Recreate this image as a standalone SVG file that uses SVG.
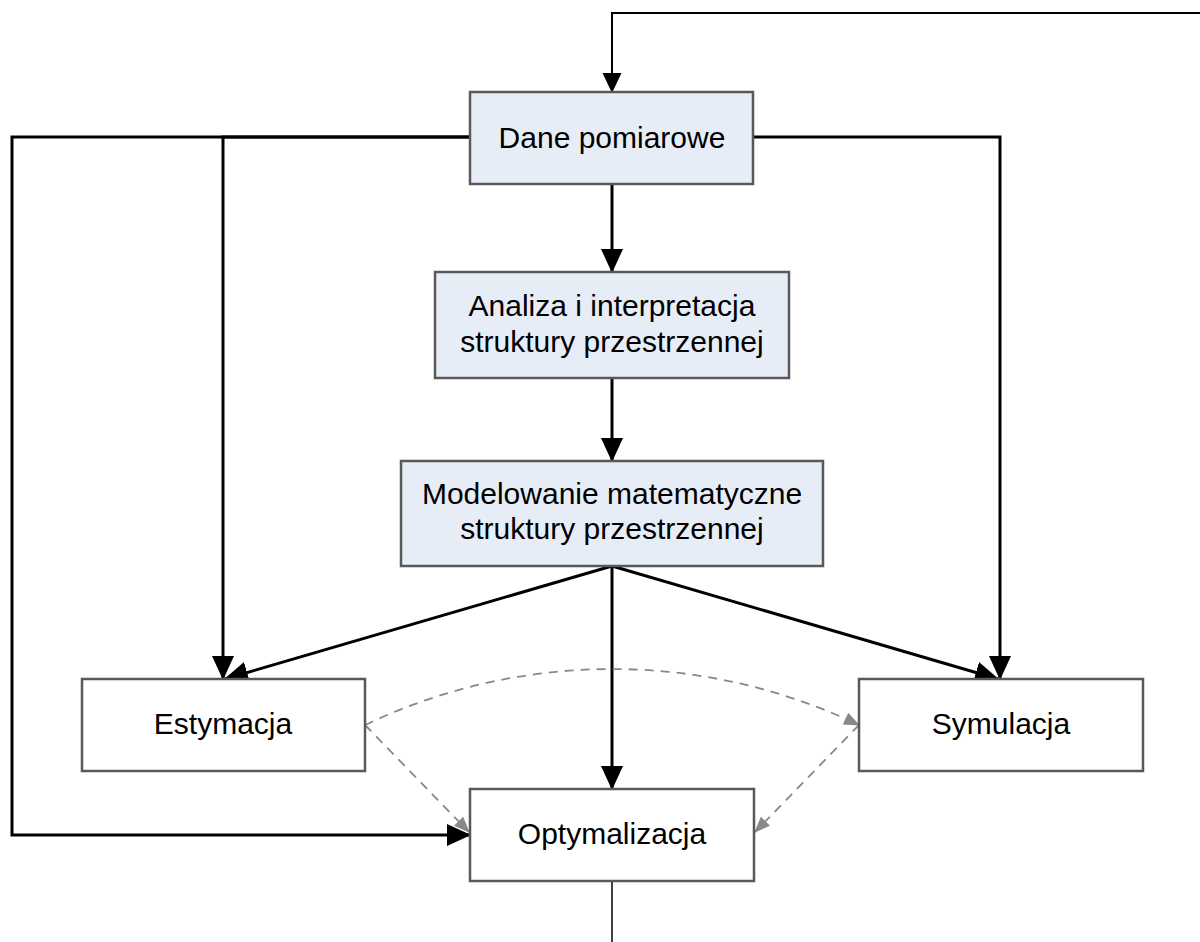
<svg xmlns="http://www.w3.org/2000/svg" width="1200" height="942" viewBox="0 0 1200 942">
<style>
.box{stroke:#595959;stroke-width:2.5}
.blue{fill:#e7edf7}
.white{fill:#ffffff}
.t{font-family:"Liberation Sans",Arial,sans-serif;font-size:30px;fill:#000;text-anchor:middle}
.c{fill:none;stroke:#000;stroke-width:3}
.thin{fill:none;stroke:#000;stroke-width:2}
.d{fill:none;stroke:#888;stroke-width:1.8;stroke-dasharray:9,7}
</style>
<defs>
<marker id="ab" markerUnits="userSpaceOnUse" viewBox="0 0 24 24" markerWidth="24" markerHeight="24" refX="23" refY="12" orient="auto">
<path d="M0,1 L24,12 L0,23 Z" fill="#000"/>
</marker>
<marker id="am" markerUnits="userSpaceOnUse" viewBox="0 0 20 20" markerWidth="20" markerHeight="20" refX="19" refY="10" orient="auto">
<path d="M0,0.5 L20,10 L0,19.5 Z" fill="#000"/>
</marker>
<marker id="ag" markerUnits="userSpaceOnUse" viewBox="0 0 16 14" markerWidth="16" markerHeight="14" refX="15" refY="7" orient="auto">
<path d="M0,0.5 L16,7 L0,13.5 Z" fill="#888"/>
</marker>
</defs>
<g id="connectors">
<path class="thin" d="M1200,13 H612 V92" marker-end="url(#am)"/>
<path class="c" d="M470,137 H12 V835 H470" marker-end="url(#ab)"/>
<path class="c" d="M470,137 H223 V679" marker-end="url(#ab)"/>
<path class="c" d="M753,137 H1000 V679" marker-end="url(#ab)"/>
<path class="c" d="M612,184 V272" marker-end="url(#ab)"/>
<path class="c" d="M612,378 V461" marker-end="url(#ab)"/>
<path class="c" d="M612,566 V789" marker-end="url(#ab)"/>
<path class="c" d="M612,566 L225,679" marker-end="url(#ab)"/>
<path class="c" d="M612,566 L998,679" marker-end="url(#ab)"/>
<path class="d" d="M365,725 A573,573 0 0 1 859,725" marker-end="url(#ag)"/>
<path class="d" d="M365,725 L469,832" marker-end="url(#ag)"/>
<path class="d" d="M859,725 L755,832" marker-end="url(#ag)"/>
<path fill="none" stroke="#000" stroke-width="1.5" d="M612,881 V942"/>
</g>
<g id="dane">
<rect class="box blue" x="470" y="92" width="283" height="92"/>
<text class="t" x="612" y="148">Dane pomiarowe</text>
</g>
<g id="analiza">
<rect class="box blue" x="435" y="272" width="354" height="106"/>
<text class="t" x="612" y="316">Analiza i interpretacja</text>
<text class="t" x="612" y="352">struktury przestrzennej</text>
</g>
<g id="modelowanie">
<rect class="box blue" x="401" y="461" width="422" height="105"/>
<text class="t" x="612" y="504">Modelowanie matematyczne</text>
<text class="t" x="612" y="539">struktury przestrzennej</text>
</g>
<g id="estymacja">
<rect class="box white" x="82" y="679" width="283" height="92"/>
<text class="t" x="223" y="734">Estymacja</text>
</g>
<g id="symulacja">
<rect class="box white" x="859" y="679" width="284" height="92"/>
<text class="t" x="1001" y="734">Symulacja</text>
</g>
<g id="optymalizacja">
<rect class="box white" x="470" y="789" width="284" height="92"/>
<text class="t" x="612" y="844">Optymalizacja</text>
</g>
</svg>
